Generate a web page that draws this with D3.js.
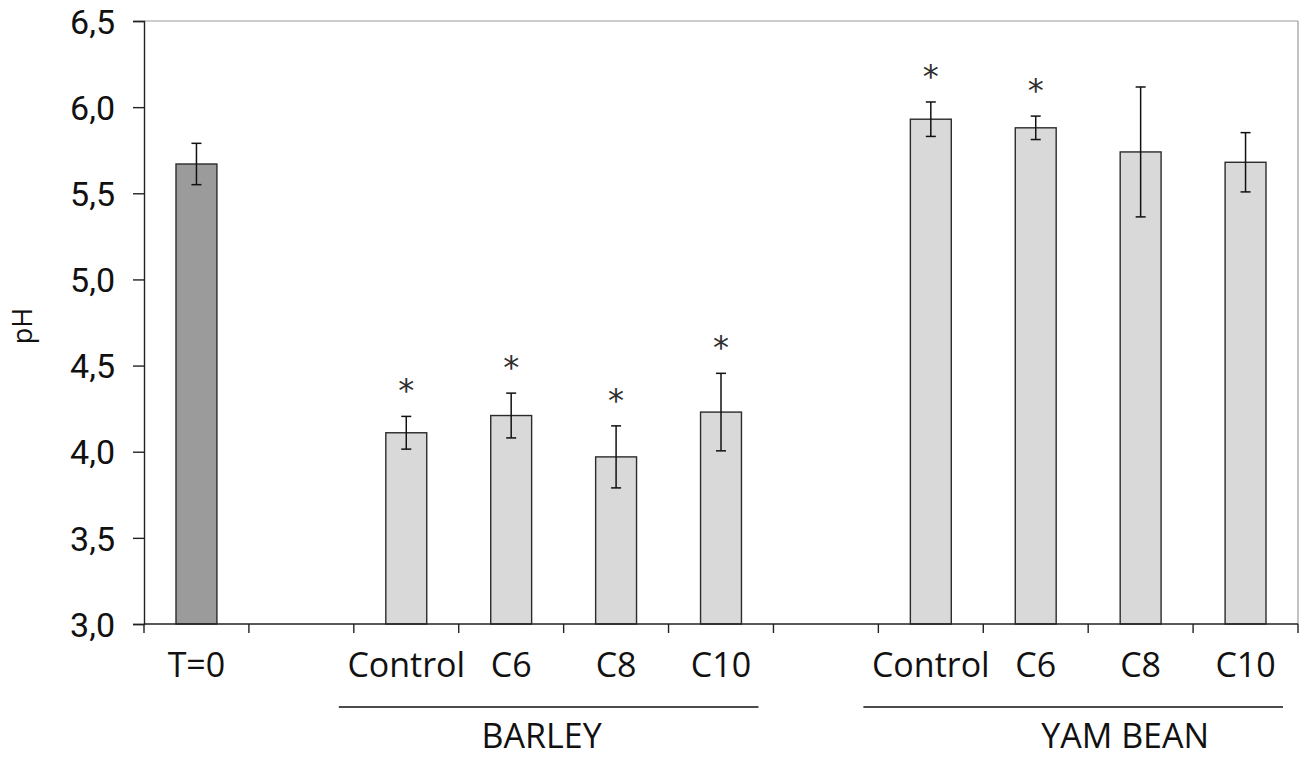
<!DOCTYPE html>
<html>
<head>
<meta charset="utf-8">
<script src="https://cdn.jsdelivr.net/npm/d3@7"></script>
<style>
  body { margin: 0; background: #fff; }
  text { font-family: "Open Sans", "Noto Sans", sans-serif; fill: #111; }
</style>
</head>
<body>
<div class="chart"></div>
<script>
// data
const slots = ["T=0", "gap1", "B-Control", "B-C6", "B-C8", "B-C10", "gap2", "Y-Control", "Y-C6", "Y-C8", "Y-C10"];
const labels = ["T=0", "", "Control", "C6", "C8", "C10", "", "Control", "C6", "C8", "C10"];
const means  = [5.67, null, 4.11, 4.21, 3.97, 4.23, null, 5.93, 5.88, 5.74, 5.68];
const errors = [0.12, null, 0.095, 0.13, 0.18, 0.225, null, 0.10, 0.068, 0.377, 0.172];
const signif = [false, false, true, true, true, true, false, true, true, false, false];
const yTicks = [3.0, 3.5, 4.0, 4.5, 5.0, 5.5, 6.0, 6.5];
const groups = [
    {name: "BARLEY", first: "B-Control", last: "B-C10", shift: -22},
    {name: "YAM BEAN", first: "Y-Control", last: "Y-C10", shift: 37}
];

const W = 1307, H = 759;
const margin = {top: 21, left: 144, bottom: 135, right: 9};
const width = W - margin.left - margin.right;
const height = H - margin.top - margin.bottom;

const svg = d3.select('.chart').append('svg')
    .attr('width', W)
    .attr('height', H)
    .append('g')
    .attr('transform', 'translate(' + margin.left + ',' + margin.top + ')');

//Scales
const pad = 0.61;
const xScale = d3.scaleBand()
    .domain(slots)
    .range([0, width])
    .paddingInner(pad)
    .paddingOuter(pad / 2);

const step = xScale.step();
const slotStart = s => xScale(s) - step * pad / 2;
const cx = d => xScale(d.slot) + xScale.bandwidth() / 2;

const yScale = d3.scaleLinear()
    .domain([3.0, 6.5])
    .range([height, 0]);

// frame: top and right in grey
svg.append('line')
    .attr('x1', 0).attr('x2', width)
    .attr('y1', 0).attr('y2', 0)
    .attr('stroke', '#9a9a9a').attr('stroke-width', 1.2);
svg.append('line')
    .attr('x1', width).attr('x2', width)
    .attr('y1', 0).attr('y2', height)
    .attr('stroke', '#9a9a9a').attr('stroke-width', 1.2);

const bars = slots.map((s, i) => ({slot: s, mean: means[i], err: errors[i], star: signif[i], i: i}))
    .filter(d => d.mean !== null);

// bars
svg.selectAll('.bar')
    .data(bars)
    .enter()
    .append('rect')
    .attr('class', 'bar')
    .attr('x', d => xScale(d.slot))
    .attr('width', xScale.bandwidth())
    .attr('y', d => yScale(d.mean))
    .attr('height', d => height - yScale(d.mean))
    .attr('fill', d => d.i === 0 ? '#9b9b9b' : '#d9d9d9')
    .attr('stroke', '#2b2b2b')
    .attr('stroke-width', 1.4);

// error bars
const eb = svg.selectAll('.err')
    .data(bars)
    .enter()
    .append('g')
    .attr('class', 'err')
    .attr('stroke', '#111')
    .attr('stroke-width', 1.5);
eb.append('line')
    .attr('x1', cx).attr('x2', cx)
    .attr('y1', d => yScale(d.mean + d.err))
    .attr('y2', d => yScale(d.mean - d.err));
eb.append('line')
    .attr('x1', d => cx(d) - 5).attr('x2', d => cx(d) + 5)
    .attr('y1', d => yScale(d.mean + d.err))
    .attr('y2', d => yScale(d.mean + d.err));
eb.append('line')
    .attr('x1', d => cx(d) - 5).attr('x2', d => cx(d) + 5)
    .attr('y1', d => yScale(d.mean - d.err))
    .attr('y2', d => yScale(d.mean - d.err));

// asterisks
svg.selectAll('.star')
    .data(bars.filter(d => d.star))
    .enter()
    .append('text')
    .attr('class', 'star')
    .attr('x', cx)
    .attr('y', d => yScale(d.mean + d.err) - 15)
    .attr('text-anchor', 'middle')
    .style('font-family', '"DejaVu Sans", sans-serif')
    .style('font-size', '32px')
    .style('fill', '#2e2e2e')
    .text('*');

// y axis
const yAxis = d3.axisLeft(yScale)
    .tickValues(yTicks)
    .tickSize(11)
    .tickFormat(d => d3.format('.1f')(d).replace('.', ','));
const gy = svg.append('g')
    .attr('class', 'axis y-axis')
    .call(yAxis);
gy.select('.domain').attr('stroke', '#222').attr('stroke-width', 1.4);
gy.selectAll('.tick line').attr('stroke', '#222').attr('stroke-width', 1.4);
gy.selectAll('.tick text')
    .attr('x', -29)
    .attr('dy', '0.36em')
    .style('font-family', 'Roboto, "Open Sans", sans-serif')
    .style('font-size', '34px')
    .style('fill', '#111');

// x axis: ticks at slot boundaries
const gx = svg.append('g')
    .attr('transform', `translate(0, ${height})`);
gx.append('line')
    .attr('x1', 0).attr('x2', width)
    .attr('stroke', '#222').attr('stroke-width', 1.4);
gx.selectAll('.xtick')
    .data(slots.concat([null]))
    .enter()
    .append('line')
    .attr('x1', s => s ? slotStart(s) : width)
    .attr('x2', s => s ? slotStart(s) : width)
    .attr('y1', 0).attr('y2', 9)
    .attr('stroke', '#222').attr('stroke-width', 1.4);
gx.selectAll('.xlab')
    .data(slots)
    .enter()
    .append('text')
    .attr('x', s => xScale(s) + xScale.bandwidth() / 2)
    .attr('y', 53)
    .attr('text-anchor', 'middle')
    .style('font-size', '34px')
    .text((s, i) => labels[i]);

// group lines & labels
const gg = gx.selectAll('.group')
    .data(groups)
    .enter()
    .append('g');
gg.append('line')
    .attr('x1', d => slotStart(d.first) - 15)
    .attr('x2', d => slotStart(d.last) + step - 15)
    .attr('y1', 83).attr('y2', 83)
    .attr('stroke', '#111').attr('stroke-width', 1.6);
gg.append('text')
    .attr('x', d => (slotStart(d.first) + slotStart(d.last) + step) / 2 + d.shift)
    .attr('y', 124)
    .attr('text-anchor', 'middle')
    .style('font-size', '34px')
    .text(d => d.name);

// y label
svg.append('text')
    .attr('transform', `translate(${-144 + 32}, ${305}) rotate(-90)`)
    .attr('text-anchor', 'middle')
    .style('font-size', '27px')
    .text('pH');
</script>
</body>
</html>
